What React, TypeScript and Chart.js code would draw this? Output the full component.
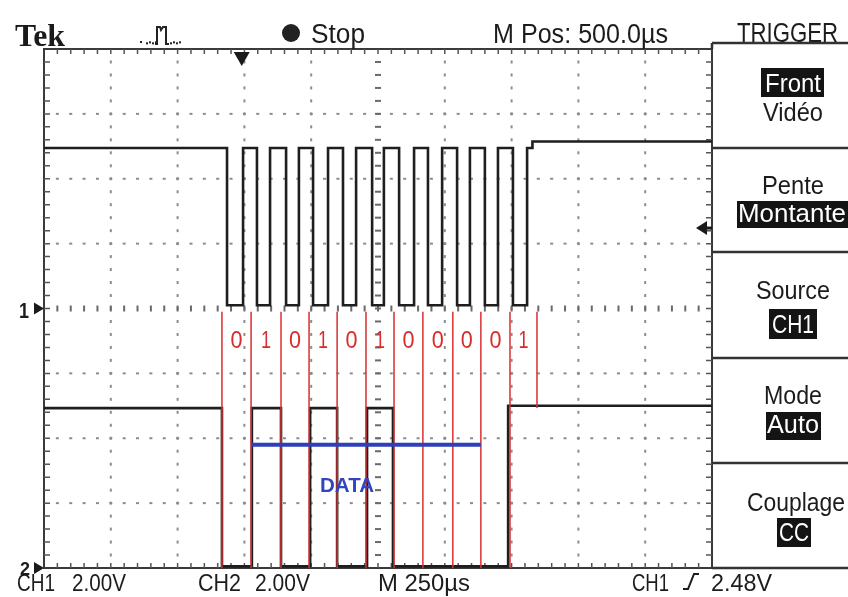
import React, { useEffect, useRef } from "react";
import { Chart, registerables } from "chart.js";

Chart.register(...registerables);

// Screen settings: 10 div x 250 us horizontally, 8 div x 2.00 V vertically
const timePerDiv = 250;
const voltsPerDiv = 2;
const timeDivisions = 10;
const voltDivisions = 8;
const minorPerDiv = 5;

// CH1 (clock): time of each level change (us from left edge) and level (V)
const ch1Times = [0, 685, 745, 797, 846, 906, 954, 1007, 1063, 1119, 1168, 1228, 1272, 1329, 1385, 1437, 1490, 1546, 1594, 1650, 1699, 1755, 1808, 1828, 2500];
const ch1Volts = [4.95, 0.1, 4.95, 0.1, 4.95, 0.1, 4.95, 0.1, 4.95, 0.1, 4.95, 0.1, 4.95, 0.1, 4.95, 0.1, 4.95, 0.1, 4.95, 0.1, 4.95, 0.1, 4.95, 5.15, 5.15];

// CH2 (data)
const ch2Times = [0, 666, 778, 887, 996, 1097, 1209, 1306, 1737, 2500];
const ch2Volts = [4.93, 0.05, 4.93, 0.05, 4.93, 0.05, 4.93, 0.05, 5.0, 5.0];

// Red bit boundaries (CH2 scale)
const bitBoundaryTimes = [666, 775, 887, 992, 1097, 1205, 1310, 1418, 1530, 1635, 1744, 1845];
const bitBoundaryBottoms = [0, 0, 0, 0, 0, 0, 0, 0, 0, 0, 0, 4.93];
const bitBoundaryTop = 7.9;
const bits = ["0", "1", "0", "1", "0", "1", "0", "0", "0", "0", "1"];
const bitLabelLevel = 7.0;

// Blue DATA bar (CH2 scale)
const dataBarTimes = [778, 1635];
const dataBarLevel = 3.8;
const dataLabel = "DATA";
const dataLabelTime = 1134;
const dataLabelLevel = 2.5;

// Trigger
const triggerTime = 740;
const triggerLevel = 2.48;

const headerTexts = ["Tek", "Stop", "M Pos: 500.0\u00b5s", "TRIGGER"];
const footerTexts = ["CH1", "2.00V", "CH2", "2.00V", "M 250\u00b5s", "CH1", "2.48V"];
const menuTitles = ["Vid\u00e9o", "Pente", "Source", "Mode", "Couplage"];
const menuValues = ["Front", "Montante", "CH1", "Auto", "CC"];

const SANS = '"Liberation Sans", Arial, sans-serif';
const SERIF = '"Liberation Serif", "Times New Roman", serif';

function fitText(
  ctx: CanvasRenderingContext2D,
  text: string,
  x: number,
  y: number,
  size: number,
  width: number,
  align: CanvasTextAlign = "left",
  color = "#1c1c1c",
  family = SANS,
  weight = "normal",
  baseline: CanvasTextBaseline = "alphabetic"
) {
  ctx.save();
  ctx.font = `${weight} ${size}px ${family}`;
  const w = ctx.measureText(text).width || 1;
  ctx.translate(x, y);
  ctx.scale(width / w, 1);
  ctx.textAlign = align;
  ctx.textBaseline = baseline;
  ctx.fillStyle = color;
  ctx.fillText(text, 0, 0);
  ctx.restore();
}

function invertedText(ctx: CanvasRenderingContext2D, text: string, cx: number, baseline: number, width: number, box: [number, number, number, number]) {
  ctx.save();
  ctx.fillStyle = "#141414";
  ctx.fillRect(box[0], box[1], box[2] - box[0], box[3] - box[1]);
  ctx.restore();
  fitText(ctx, text, cx, baseline, 25, width, "center", "#ffffff");
}

const backgroundPlugin = {
  id: "scopeBackground",
  beforeDraw(chart: any) {
    const { ctx } = chart;
    ctx.save();
    ctx.fillStyle = "#ffffff";
    ctx.fillRect(0, 0, chart.width, chart.height);
    ctx.restore();
  },
  beforeDatasetsDraw(chart: any) {
    const { ctx, chartArea: a, scales } = chart;
    const xs = scales.x;
    const ys = scales.y1;
    const tMax = timePerDiv * timeDivisions;
    const vMin = -(voltsPerDiv * voltDivisions) / 2;
    const tMinor = timePerDiv / minorPerDiv;
    const vMinor = voltsPerDiv / minorPerDiv;
    const nMinorX = timeDivisions * minorPerDiv;
    const nMinorY = voltDivisions * minorPerDiv;
    ctx.save();
    // dotted division lines
    ctx.fillStyle = "#8c8c8c";
    for (let k = 1; k < timeDivisions; k++) {
      if (k === timeDivisions / 2) continue;
      const px = xs.getPixelForValue(k * timePerDiv);
      for (let j = 1; j < nMinorY; j++) {
        const py = ys.getPixelForValue(vMin + j * vMinor);
        ctx.fillRect(px - 1, py - 1.5, 2, 3);
      }
    }
    for (let k = 1; k < voltDivisions; k++) {
      if (k === voltDivisions / 2) continue;
      const py = ys.getPixelForValue(vMin + k * voltsPerDiv);
      for (let j = 1; j < nMinorX; j++) {
        const px = xs.getPixelForValue(j * tMinor);
        ctx.fillRect(px - 1.5, py - 1, 3, 2);
      }
    }
    // center cross with minor ticks
    ctx.fillStyle = "#6a6a6a";
    const cy = ys.getPixelForValue(0);
    const cx = xs.getPixelForValue(tMax / 2);
    for (let j = 1; j < nMinorX; j++) {
      const px = xs.getPixelForValue(j * tMinor);
      ctx.fillRect(px - 1, cy - 3, 2, 6);
    }
    for (let j = 1; j < nMinorY; j++) {
      const py = ys.getPixelForValue(vMin + j * vMinor);
      ctx.fillRect(cx - 3, py - 1, 6, 2);
    }
    // frame with inner ticks
    ctx.strokeStyle = "#3a3a3a";
    ctx.lineWidth = 2;
    ctx.strokeRect(a.left, a.top, a.right - a.left, a.bottom - a.top);
    ctx.lineWidth = 1.5;
    ctx.strokeStyle = "#555";
    ctx.beginPath();
    for (let j = 1; j < nMinorY; j++) {
      const py = ys.getPixelForValue(vMin + j * vMinor);
      ctx.moveTo(a.left, py);
      ctx.lineTo(a.left + 6, py);
      ctx.moveTo(a.right - 6, py);
      ctx.lineTo(a.right, py);
    }
    for (let j = 1; j < nMinorX; j++) {
      const px = xs.getPixelForValue(j * tMinor);
      ctx.moveTo(px, a.top);
      ctx.lineTo(px, a.top + 5);
      ctx.moveTo(px, a.bottom - 5);
      ctx.lineTo(px, a.bottom);
    }
    ctx.stroke();
    ctx.restore();
  },
  afterDraw(chart: any) {
    const { ctx, chartArea: a, scales } = chart;
    const xs = scales.x;
    const y1 = scales.y1;
    const y2 = scales.y2;
    ctx.save();

    // bit labels
    bits.forEach((b, i) => {
      const t = (bitBoundaryTimes[i] + bitBoundaryTimes[i + 1]) / 2;
      fitText(ctx, b, xs.getPixelForValue(t), y2.getPixelForValue(bitLabelLevel), 24, b === "1" ? 10 : 12, "center", "#d92b2b", SANS, "normal", "middle");
    });
    // DATA label
    fitText(ctx, dataLabel, xs.getPixelForValue(dataLabelTime), y2.getPixelForValue(dataLabelLevel), 20, 54, "center", "#3245c0", SANS, "bold", "middle");

    // trigger position marker (top)
    const tx = xs.getPixelForValue(triggerTime);
    ctx.fillStyle = "#1a1a1a";
    ctx.beginPath();
    ctx.moveTo(tx - 8, a.top + 3);
    ctx.lineTo(tx + 8, a.top + 3);
    ctx.lineTo(tx, a.top + 17);
    ctx.closePath();
    ctx.fill();
    // trigger level marker (right)
    const ty = y1.getPixelForValue(triggerLevel);
    ctx.beginPath();
    ctx.moveTo(a.right - 16, ty);
    ctx.lineTo(a.right - 5, ty - 7);
    ctx.lineTo(a.right - 5, ty + 7);
    ctx.closePath();
    ctx.fill();
    ctx.fillRect(a.right - 6, ty - 1.5, 6, 3);

    // ground markers
    const g1 = y1.getPixelForValue(0);
    const g2 = y2.getPixelForValue(0);
    fitText(ctx, "1", 19, g1 + 9, 22, 10, "left", "#1c1c1c", SANS, "bold");
    fitText(ctx, "2", 20, g2 + 7, 19, 10, "left", "#1c1c1c", SANS, "bold");
    ctx.fillStyle = "#1a1a1a";
    [g1, g2].forEach((g) => {
      ctx.beginPath();
      ctx.moveTo(a.left, g);
      ctx.lineTo(a.left - 10, g - 6);
      ctx.lineTo(a.left - 10, g + 6);
      ctx.closePath();
      ctx.fill();
    });

    // header
    fitText(ctx, headerTexts[0], 15, 46, 32, 50, "left", "#1a1a1a", SERIF, "bold");
    // acquisition icon
    ctx.fillStyle = "#222";
    ctx.fillRect(140, 41, 2, 2);
    for (let x = 146; x < 156; x += 3) ctx.fillRect(x, 43 - ((x / 3) % 2), 2, 2);
    for (let x = 170; x < 181; x += 3) ctx.fillRect(x, 43 - ((x / 3) % 2), 2, 2);
    ctx.strokeStyle = "#222";
    ctx.lineWidth = 2;
    ctx.beginPath();
    ctx.moveTo(155, 44);
    ctx.lineTo(157, 44);
    ctx.lineTo(157, 27);
    ctx.lineTo(160, 27);
    ctx.lineTo(161, 30);
    ctx.lineTo(163, 27);
    ctx.lineTo(166, 27);
    ctx.lineTo(166, 44);
    ctx.lineTo(169, 44);
    ctx.stroke();
    // stop dot
    ctx.beginPath();
    ctx.arc(291, 33, 9, 0, Math.PI * 2);
    ctx.fill();
    fitText(ctx, headerTexts[1], 311, 43, 27, 54);
    fitText(ctx, headerTexts[2], 493, 43, 27, 175);
    fitText(ctx, headerTexts[3], 737, 42, 27, 101);

    // right menu
    ctx.strokeStyle = "#333";
    ctx.lineWidth = 2.5;
    ctx.beginPath();
    [43, 148, 252, 358, 463, 568].forEach((y) => {
      ctx.moveTo(a.right, y);
      ctx.lineTo(848, y);
    });
    ctx.moveTo(a.right, 43);
    ctx.lineTo(a.right, a.top);
    ctx.stroke();
    const mc = 793;
    invertedText(ctx, menuValues[0], mc, 92, 56, [761, 68, 824, 97]);
    fitText(ctx, menuTitles[0], mc, 121, 25, 60, "center");
    fitText(ctx, menuTitles[1], mc, 194, 25, 62, "center");
    invertedText(ctx, menuValues[1], 792, 222, 108, [737, 201, 848, 228]);
    fitText(ctx, menuTitles[2], mc, 299, 25, 74, "center");
    invertedText(ctx, menuValues[2], mc, 333, 42, [769, 309, 817, 339]);
    fitText(ctx, menuTitles[3], mc, 404, 25, 58, "center");
    invertedText(ctx, menuValues[3], mc, 433, 52, [766, 412, 821, 440]);
    fitText(ctx, menuTitles[4], 796, 511, 25, 98, "center");
    invertedText(ctx, menuValues[4], 794, 541, 30, [777, 518, 811, 547]);

    // footer
    const fb = 591;
    fitText(ctx, footerTexts[0], 17, fb, 24, 38);
    fitText(ctx, footerTexts[1], 72, fb, 24, 54);
    fitText(ctx, footerTexts[2], 198, fb, 24, 43);
    fitText(ctx, footerTexts[3], 255, fb, 24, 55);
    fitText(ctx, footerTexts[4], 378, fb, 24, 92);
    fitText(ctx, footerTexts[5], 632, fb, 24, 37);
    ctx.strokeStyle = "#1c1c1c";
    ctx.lineWidth = 2;
    ctx.beginPath();
    ctx.moveTo(683, 589);
    ctx.lineTo(688, 589);
    ctx.lineTo(694, 574);
    ctx.lineTo(699, 574);
    ctx.stroke();
    fitText(ctx, footerTexts[6], 711, fb, 24, 61);
    ctx.restore();
  },
};

export default function App() {
  const canvasRef = useRef<HTMLCanvasElement | null>(null);

  useEffect(() => {
    const canvas = canvasRef.current;
    if (!canvas) return;
    const datasets: any[] = [];
    datasets.push({
      label: "DATA",
      data: dataBarTimes.map((t) => ({ x: t, y: dataBarLevel })),
      yAxisID: "y2",
      borderColor: "#2e3fb8",
      borderWidth: 4,
      pointRadius: 0,
    });
    bitBoundaryTimes.forEach((t, i) => {
      datasets.push({
        label: `bit${i}`,
        data: [
          { x: t, y: bitBoundaryTop },
          { x: t, y: bitBoundaryBottoms[i] },
        ],
        yAxisID: "y2",
        borderColor: "#d93030",
        borderWidth: 1.5,
        pointRadius: 0,
      });
    });
    datasets.push({
      label: "CH1",
      data: ch1Times.map((t, i) => ({ x: t, y: ch1Volts[i] })),
      yAxisID: "y1",
      stepped: "before",
      borderColor: "#1e1e1e",
      borderWidth: 2.6,
      pointRadius: 0,
    });
    datasets.push({
      label: "CH2",
      data: ch2Times.map((t, i) => ({ x: t, y: ch2Volts[i] })),
      yAxisID: "y2",
      stepped: "before",
      borderColor: "#1e1e1e",
      borderWidth: 2.6,
      pointRadius: 0,
    });

    const half = (voltsPerDiv * voltDivisions) / 2;
    const chart = new Chart(canvas, {
      type: "line",
      data: { datasets },
      options: {
        animation: false,
        responsive: false,
        maintainAspectRatio: false,
        layout: { padding: { left: 44, right: 136, top: 49, bottom: 29 } },
        plugins: { legend: { display: false }, tooltip: { enabled: false } },
        scales: {
          x: { type: "linear", min: 0, max: timePerDiv * timeDivisions, display: false },
          y1: { type: "linear", min: -half, max: half, display: false },
          y2: { type: "linear", min: 0, max: 2 * half, display: false },
        },
      },
      plugins: [backgroundPlugin],
    } as any);
    return () => chart.destroy();
  }, []);

  return (
    <div style={{ position: "absolute", left: 0, top: 0, width: 848, height: 597 }}>
      <canvas ref={canvasRef} width={848} height={597} style={{ width: 848, height: 597, display: "block" }} />
    </div>
  );
}
